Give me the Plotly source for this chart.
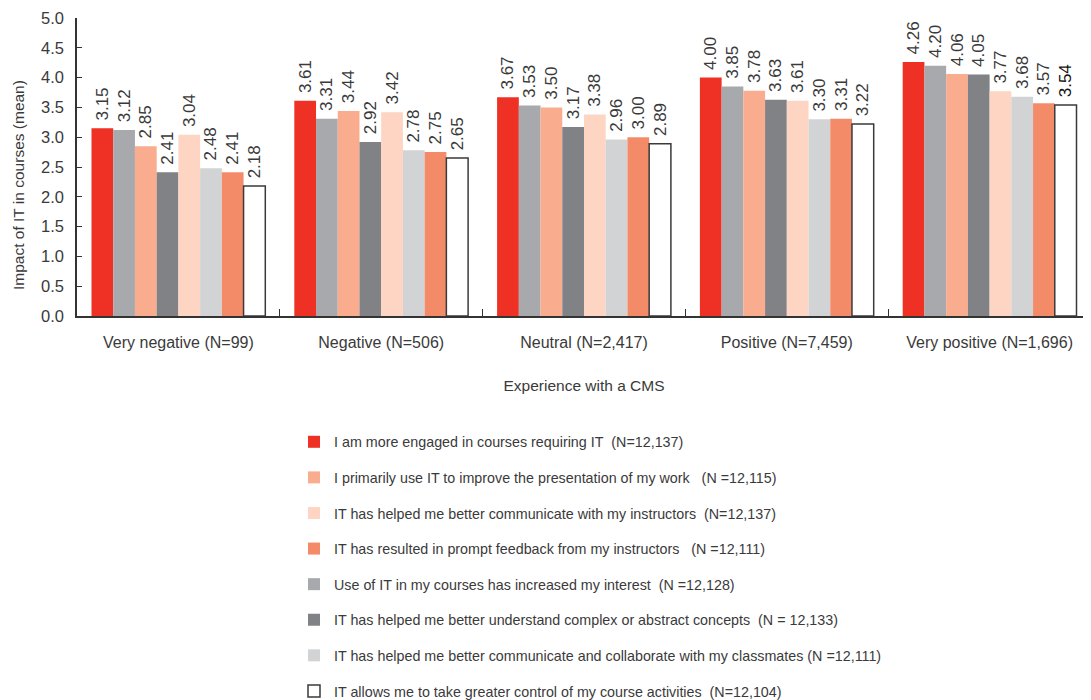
import plotly.graph_objects as go

categories = ["Very negative (N=99)", "Negative (N=506)", "Neutral (N=2,417)",
              "Positive (N=7,459)", "Very positive (N=1,696)"]

engaged = [3.15, 3.61, 3.67, 4.00, 4.26]
interest = [3.12, 3.31, 3.53, 3.85, 4.20]
presentation = [2.85, 3.44, 3.50, 3.78, 4.06]
complex_ = [2.41, 2.92, 3.17, 3.63, 4.05]
instructors = [3.04, 3.42, 3.38, 3.61, 3.77]
classmates = [2.48, 2.78, 2.96, 3.30, 3.68]
feedback = [2.41, 2.75, 3.00, 3.31, 3.57]
control = [2.18, 2.65, 2.89, 3.22, 3.54]

NB = "\u00a0"
series = [
    ("I am more engaged in courses requiring IT" + NB * 2 + "(N=12,137)", engaged, "#EE3124", 1),
    ("Use of IT in my courses has increased my interest" + NB * 2 + "(N" + NB + "=12,128)", interest, "#A7A9AC", 5),
    ("I primarily use IT to improve the presentation of my work" + NB * 3 + "(N" + NB + "=12,115)", presentation, "#F9AD8E", 2),
    ("IT has helped me better understand complex or abstract concepts" + NB * 2 + "(N" + NB + "=" + NB + "12,133)", complex_, "#808285", 6),
    ("IT has helped me better communicate with my instructors" + NB * 2 + "(N=12,137)", instructors, "#FDD5C2", 3),
    ("IT has helped me better communicate and collaborate with my classmates" + NB + "(N" + NB + "=12,111)", classmates, "#D1D3D4", 7),
    ("IT has resulted in prompt feedback from my instructors" + NB * 3 + "(N" + NB + "=12,111)", feedback, "#F48B68", 4),
    ("IT allows me to take greater control of my course activities" + NB * 2 + "(N=12,104)", control, "#FFFFFF", 8),
]

FONT = "Liberation Sans, Arial, sans-serif"
TXT = "#3a3a3a"

# figure is drawn inside an 8px page margin
W, H = 1083, 692
ML, MT, MB = 69, 10, 384
PLOT_W = W - ML
PLOT_H = H - MT - MB

fig = go.Figure()
for name, vals, color, rank in series:
    is_white = color == "#FFFFFF"
    fig.add_trace(go.Bar(
        x=categories, y=vals, name=name,
        marker=dict(color=color,
                    line=dict(color="#3a3a3a" if is_white else color,
                              width=1.5 if is_white else 0)),
        text=[NB + f"{v:.2f}" for v in vals],
        textposition="outside", textangle=-90,
        textfont=dict(family=FONT, size=17,
                      color=[TXT] * (len(vals) - 1) + ["#111111" if is_white else TXT]),
        constraintext="none", cliponaxis=False,
        legendrank=rank, legendgroup=name,
    ))

fig.add_annotation(
    text="Impact of IT in courses (mean)", textangle=-90,
    xref="paper", yref="paper",
    x=(10 - ML) / PLOT_W, y=(MT + PLOT_H - 177) / PLOT_H,
    xanchor="center", yanchor="middle", showarrow=False,
    font=dict(family=FONT, size=15.5, color=TXT),
)

fig.update_layout(
    width=W, height=H,
    margin=dict(l=ML, r=0, t=MT, b=MB, autoexpand=False),
    barmode="group", bargap=0.143, bargroupgap=0,
    plot_bgcolor="white", paper_bgcolor="white",
    font=dict(family=FONT, size=16, color=TXT),
    xaxis=dict(
        showline=True, linecolor="#333333", linewidth=1.5,
        ticks="inside", tickson="boundaries", ticklen=7, tickcolor="#333333",
        tickfont=dict(size=16), tickangle=0, ticklabelstandoff=11,
        title=dict(text="Experience with a CMS", font=dict(size=15.5), standoff=30),
        automargin=False,
    ),
    yaxis=dict(
        range=[0, 5], dtick=0.5, tickformat=".1f",
        showline=True, linecolor="#333333", linewidth=1.5,
        ticks="inside", ticklen=5, tickcolor="#333333",
        showgrid=False, zeroline=False,
        tickfont=dict(size=16.5), ticklabelstandoff=8,
        automargin=False,
    ),
    showlegend=True,
    legend=dict(
        xref="container", yref="container",
        x=286 / W, y=1 - 418 / H, xanchor="left", yanchor="top",
        traceorder="grouped", tracegroupgap=14,
        font=dict(size=14.3, color=TXT), itemwidth=30,
        bgcolor="rgba(0,0,0,0)",
    ),
)

fig.write_html("out.html")
